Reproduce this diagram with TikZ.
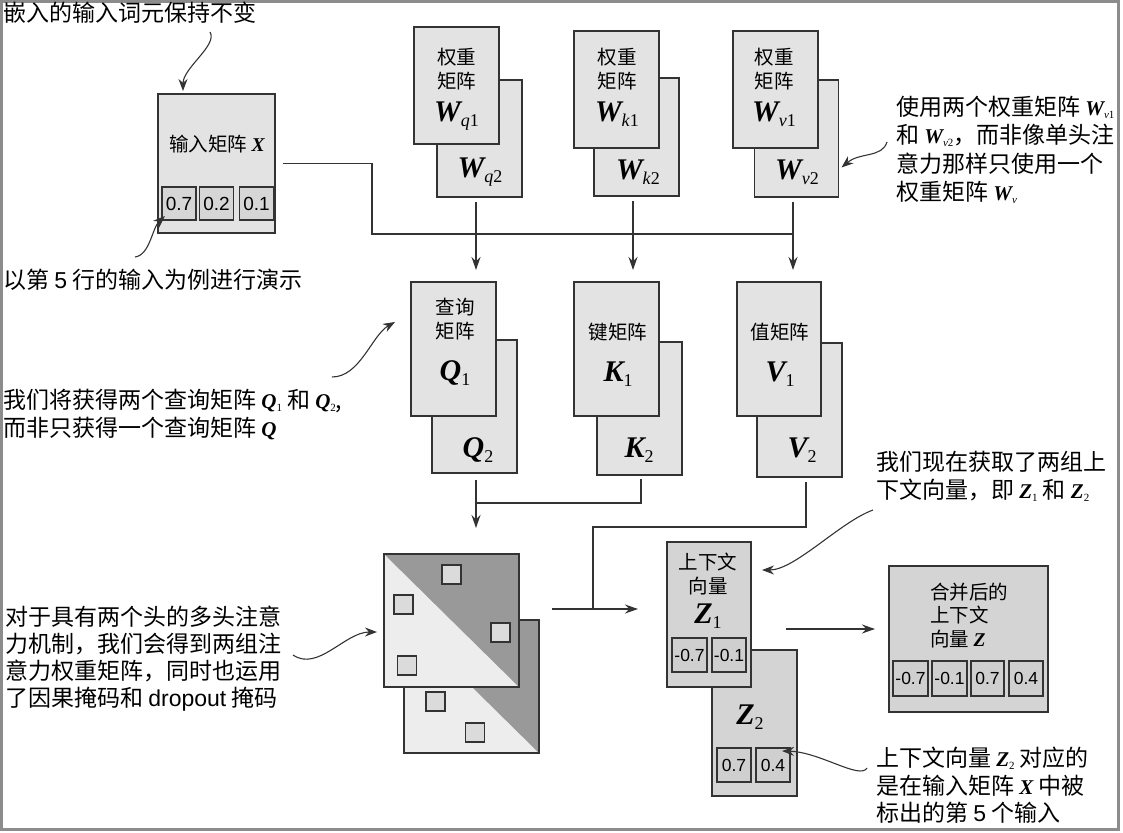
\documentclass[tikz,border=0pt]{standalone}
\usepackage{fontspec}
\setmainfont{Noto Sans CJK SC}
\newfontfamily\ars{Liberation Sans}
\newfontfamily\tms{Liberation Serif}
\usepackage{tikz}
\usetikzlibrary{arrows.meta}
\usepackage{xcolor}

\definecolor{boxfill}{gray}{0.89}
\definecolor{zfill}{gray}{0.83}
\definecolor{cellfill}{gray}{0.84}
\definecolor{zcellfill}{gray}{0.81}
\definecolor{darkhalf}{gray}{0.6}
\definecolor{lighthalf}{gray}{0.93}
\definecolor{sqfill}{gray}{0.86}
\definecolor{linec}{gray}{0.2}
\definecolor{framec}{gray}{0.55}

\newcommand{\mv}[1]{{\tms\bfseries\itshape #1}}
\newcommand{\boxvar}[2]{{\tms\bfseries\itshape\fontsize{30}{30}\selectfont #1}\raisebox{-5pt}{\tms\fontsize{18}{18}\selectfont #2}}
\newcommand{\notevar}[2]{{\tms\bfseries\itshape\fontsize{21}{21}\selectfont #1}\raisebox{-3pt}{\tms\fontsize{11}{11}\selectfont #2}}

\begin{document}
\begin{tikzpicture}[x=1pt, y=-1pt,
		wire/.style={draw=linec, line width=1.4pt},
		flow/.style={wire, -{Stealth[length=13pt,width=9pt]}},
		notearr/.style={draw=linec, line width=1.1pt, -{Stealth[length=12pt,width=9pt]}},
		matbox/.style={draw=linec, fill=boxfill, line width=1.6pt, inner sep=0pt, outer sep=0pt, minimum width=85pt, minimum height=117pt},
		qbox/.style={matbox, minimum height=134pt},
		zbox/.style={matbox, fill=zfill, minimum height=146pt},
		attnbox/.style={draw=linec, fill=lighthalf, line width=1.6pt, inner sep=0pt, outer sep=0pt, minimum width=135pt, minimum height=133pt,
			path picture={\fill[darkhalf] (path picture bounding box.north west) -- (path picture bounding box.north east) -- (path picture bounding box.south east) -- cycle;}},
		sq/.style={draw=linec, fill=sqfill, line width=1.4pt, inner sep=0pt, minimum size=19pt},
		cellbox/.style={draw=linec, fill=cellfill, line width=1.8pt, inner sep=0pt, outer sep=0pt, minimum width=34pt, minimum height=33pt, font=\ars\fontsize{19}{19}\selectfont},
		zcell/.style={cellbox, fill=zcellfill, minimum height=34pt, font=\ars\fontsize{17.5}{17.5}\selectfont},
		boxtext/.style={font=\fontsize{19.5}{24}\selectfont, align=center, inner sep=0pt},
		notetext/.style={font=\fontsize{23}{27.5}\selectfont, align=left, anchor=north west, inner sep=0pt}]
	\useasboundingbox (0,0) rectangle (1123,832);
	\draw[framec, line width=3pt] (1.5,1.5) rectangle (1118.5,829.5);

	% input matrix
	\node[matbox, minimum width=117pt, minimum height=139pt] (xbox) at (216.5,163.5) {};
	\node[boxtext] (xt) at (217,144) {输入矩阵 \mv{X}};
	\node[cellbox] (xc1) at (179,203.5) {0.7};
	\node[cellbox] (xc2) at (216.5,203.5) {0.2};
	\node[cellbox] (xc3) at (256.5,203.5) {0.1};

	% weight matrices
	\node[matbox] (wq2) at (479.5,138.5) {};
	\node[matbox] (wq1) at (456.5,85.5) {};
	\node[boxtext, anchor=north] (wq1t) at (456.5,48) {权重\\矩阵\\[8.5pt]\boxvar{W}{\textit{q}1}};
	\node[boxtext] (wq2t) at (480,172) {\boxvar{W}{\textit{q}2}};
	\node[matbox, minimum height=118pt] (wk2) at (636.5,137) {};
	\node[matbox] (wk1) at (616.5,89.5) {};
	\node[boxtext, anchor=north] (wk1t) at (617,48) {权重\\矩阵\\[8.5pt]\boxvar{W}{\textit{k}1}};
	\node[boxtext] (wk2t) at (638,172) {\boxvar{W}{\textit{k}2}};
	\node[matbox, minimum width=84pt] (wv2) at (796.5,138.5) {};
	\node[matbox] (wv1) at (775.5,89.5) {};
	\node[boxtext, anchor=north] (wv1t) at (774,48) {权重\\矩阵\\[8.5pt]\boxvar{W}{\textit{v}1}};
	\node[boxtext] (wv2t) at (797,172) {\boxvar{W}{\textit{v}2}};

	% query, key, value
	\node[qbox, minimum height=133pt] (q2) at (474.5,406.5) {};
	\node[qbox] (q1) at (453.5,349) {};
	\node[boxtext, anchor=north] (q1t) at (455,297.5) {查询\\矩阵\\[18pt]\boxvar{Q}{1}};
	\node[boxtext] (q2t) at (478,450) {\boxvar{Q}{2}};
	\node[qbox, minimum height=133pt] (k2) at (639.5,408.5) {};
	\node[qbox] (k1) at (616.5,349) {};
	\node[boxtext, anchor=north] (k1t) at (618,322.5) {键矩阵\\[18pt]\boxvar{K}{1}};
	\node[boxtext] (k2t) at (639,450) {\boxvar{K}{2}};
	\node[qbox] (v2) at (799.5,410) {};
	\node[qbox, minimum width=84pt] (v1) at (779,349) {};
	\node[boxtext, anchor=north] (v1t) at (780,322.5) {值矩阵\\[18pt]\boxvar{V}{1}};
	\node[boxtext] (v2t) at (802,450) {\boxvar{V}{2}};

	% attention weights
	\node[attnbox] (attn2) at (471.5,686.5) {};
	\node[attnbox] (attn1) at (451.5,620.5) {};
	\node[sq] (m1) at (451.5,574.5) {};
	\node[sq] (m2) at (403.5,604.5) {};
	\node[sq] (m3) at (500.5,632.5) {};
	\node[sq] (m4) at (407,665.5) {};
	\node[sq] (m5) at (435.5,701.5) {};
	\node[sq] (m6) at (475,732.5) {};

	% context vectors
	\node[zbox] (z2) at (754.5,723) {};
	\node[boxtext] (z2t) at (750,717) {\boxvar{Z}{2}};
	\node[zcell] (zc3) at (734,765) {0.7};
	\node[zcell] (zc4) at (773,765) {0.4};
	\node[zbox, minimum width=84pt, minimum height=145pt] (z1) at (709,614.5) {};
	\node[boxtext, anchor=north] (z1t) at (708,552.5) {上下文\\向量\\[6.5pt]\boxvar{Z}{1}};
	\node[zcell, minimum width=35pt] (zc1) at (689.5,655) {-0.7};
	\node[zcell] (zc2) at (729,655) {-0.1};
	\node[zbox, minimum width=159pt] (z) at (968.5,639) {};
	\node[boxtext, align=left, anchor=north west, font=\fontsize{19.5}{23.5}\selectfont] (zt) at (930,582.5) {合并后的\\上下文\\向量 \mv{Z}};
	\node[zcell, minimum width=35pt, minimum height=35pt] (zz1) at (910.5,678.5) {-0.7};
	\node[zcell, minimum width=35pt, minimum height=35pt] (zz2) at (949.5,678.5) {-0.1};
	\node[zcell, minimum width=33pt, minimum height=35pt] (zz3) at (987.5,678.5) {0.7};
	\node[zcell, minimum height=35pt] (zz4) at (1026,678.5) {0.4};

	% connectors
	\coordinate (qcol) at (476,0);
	\coordinate (kcol) at (633,0);
	\coordinate (vcol) at (793,0);
	\coordinate (bus) at (372,234);
	\coordinate (kq) at (641,503);
	\coordinate (vz) at (806,527);
	\coordinate (jn) at (593,609);
	\draw[wire] ([xshift=8pt]xbox.east) -| (bus) -- (vcol |- bus);
	\draw[flow, shorten <=5pt, shorten >=12pt] (qcol |- wq2.south) -- (qcol |- q1.north);
	\draw[flow, shorten <=5pt, shorten >=12pt] (kcol |- wk2.south) -- (kcol |- k1.north);
	\draw[flow, shorten <=5pt, shorten >=12pt] (vcol |- wv2.south) -- (vcol |- v1.north);
	\draw[flow, shorten <=7pt, shorten >=26pt] (qcol |- q2.south) -- (qcol |- attn1.north);
	\draw[wire, shorten <=4pt] (kq |- k2.south) -- (kq) -- (qcol |- kq);
	\draw[wire, shorten <=5pt] (vz |- v2.south) -- (vz) -| (jn);
	\draw[flow, shorten >=29pt] ([xshift=33pt,yshift=11.5pt]attn1.east) -- (z1.west |- jn);
	\draw[flow, shorten >=14pt] ([xshift=35pt,yshift=-14.5pt]z1.east) -- ([yshift=10pt]z.west);

	% notes
	\node[notetext] (n1) at (3,2) {嵌入的输入词元保持不变};
	\node[notetext] (n2) at (3,269) {以第 {\ars 5} 行的输入为例进行演示};
	\node[notetext] (n3) at (3,389) {我们将获得两个查询矩阵 \notevar{Q}{1} 和 \notevar{Q}{2},\\而非只获得一个查询矩阵 \notevar{Q}{}};
	\node[notetext, font=\fontsize{23}{27}\selectfont] (n4) at (5,606) {对于具有两个头的多头注意\\力机制，我们会得到两组注\\意力权重矩阵，同时也运用\\了因果掩码和 {\ars dropout} 掩码};
	\node[notetext, font=\fontsize{23}{28.3}\selectfont] (n5) at (896,96) {使用两个权重矩阵 \notevar{W}{\textit{v}1}\\和 \notevar{W}{\textit{v}2}，而非像单头注\\意力那样只使用一个\\权重矩阵 \notevar{W}{\textit{v}}};
	\node[notetext] (n6) at (876,451) {我们现在获取了两组上\\下文向量，即 \notevar{Z}{1} 和 \notevar{Z}{2}};
	\node[notetext] (n7) at (876,747) {上下文向量 \notevar{Z}{2} 对应的\\是在输入矩阵 \notevar{X}{} 中被\\标出的第 {\ars 5} 个输入};

	\coordinate (a1) at (210,32);
	\coordinate (a2) at (135,257);
	\coordinate (a3) at (887,142);
	\coordinate (a4) at (332,377);
	\coordinate (a5) at (293,655);
	\coordinate (a6) at (873,510);
	\coordinate (a7) at (867,768);
	\draw[notearr] (a1) .. controls (218,45) and (183,68) .. ([xshift=-33.5pt,yshift=3pt]xbox.north);
	\draw[notearr] (a2) .. controls (150,255) and (152,228) .. ([xshift=3pt,yshift=4pt]xc1.south west);
	\draw[notearr] (a3) .. controls (882,158) and (860,152) .. ([xshift=3pt,yshift=-29pt]wv2.east);
	\draw[notearr] (a4) .. controls (360,377) and (372,335) .. ([xshift=-16pt,yshift=27pt]q1.west);
	\draw[notearr] (a5) .. controls (318,672) and (345,632) .. ([xshift=-7pt,yshift=-11.5pt]attn1.west);
	\draw[notearr] (a6) .. controls (840,522) and (795,570) .. ([xshift=11pt,yshift=44.5pt]z1.east);
	\draw[notearr] (a7) .. controls (860,780) and (820,752) .. ([xshift=-8pt,yshift=-3pt]zc4.north east);
\end{tikzpicture}
\end{document}
